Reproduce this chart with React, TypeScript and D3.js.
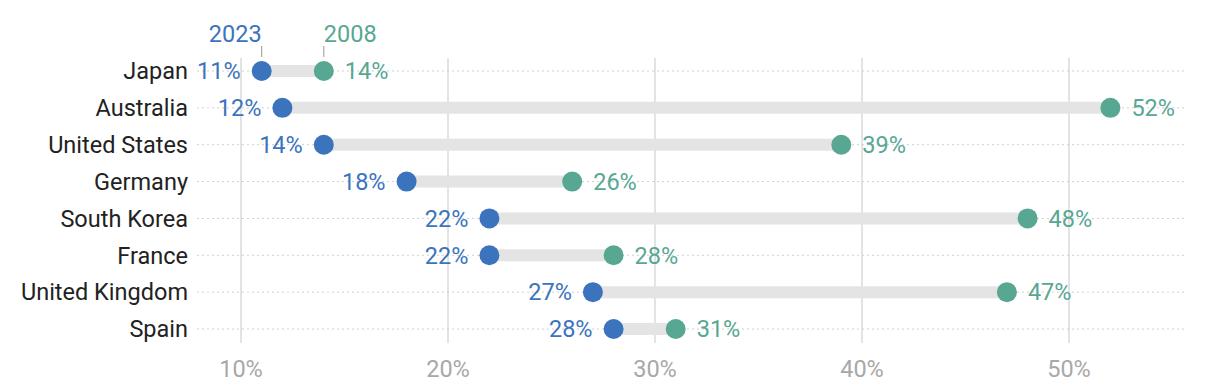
import React, { useRef, useEffect } from 'react';
import * as d3 from 'd3';

const countries = ['Japan', 'Australia', 'United States', 'Germany', 'South Korea', 'France', 'United Kingdom', 'Spain'];
const values2023 = [11, 12, 14, 18, 22, 22, 27, 28];
const values2008 = [14, 52, 39, 26, 48, 28, 47, 31];
const xTicks = [10, 20, 30, 40, 50];

const BLUE = '#3b74bd';
const GREEN = '#58a793';
const FONT = 'Roboto, sans-serif';
const FS = 23.5;

const App = () => {
    const svgRef = useRef<SVGSVGElement | null>(null);

    useEffect(() => {
        const svgWidth = 1220;
        const svgHeight = 392;
        const left = 197;
        const right = 1187;

        const svg = d3.select(svgRef.current)
            .attr('width', svgWidth)
            .attr('height', svgHeight);
        svg.selectAll('*').remove();

        const x = d3.scaleLinear().domain([10, 50]).range([241, 1069]);
        const y = d3.scalePoint<string>().domain(countries).range([71, 329]);

        // vertical grid
        svg.append('g')
            .selectAll('line')
            .data(xTicks)
            .enter()
            .append('line')
            .attr('x1', d => x(d)).attr('x2', d => x(d))
            .attr('y1', 58).attr('y2', 343)
            .attr('stroke', '#e3e3e3')
            .attr('stroke-width', 2);

        // dotted row lines
        svg.append('g')
            .selectAll('line')
            .data(countries)
            .enter()
            .append('line')
            .attr('x1', left).attr('x2', right)
            .attr('y1', d => y(d)!).attr('y2', d => y(d)!)
            .attr('stroke', '#d0d0d0')
            .attr('stroke-width', 1)
            .attr('stroke-dasharray', '2,3');

        // x tick labels
        svg.append('g')
            .selectAll('text')
            .data(xTicks)
            .enter()
            .append('text')
            .attr('x', d => x(d))
            .attr('y', 377)
            .attr('text-anchor', 'middle')
            .attr('font-family', FONT)
            .attr('font-size', FS)
            .attr('fill', '#a8a8a8')
            .text(d => d + '%');

        const rows = countries.map((c, i) => ({ c, a: values2023[i], b: values2008[i] }));

        // country labels
        svg.append('g')
            .selectAll('text')
            .data(rows)
            .enter()
            .append('text')
            .attr('x', 188)
            .attr('y', d => y(d.c)!)
            .attr('dy', '0.35em')
            .attr('text-anchor', 'end')
            .attr('font-family', FONT)
            .attr('font-size', FS)
            .attr('fill', '#222')
            .text(d => d.c);

        // gray bars
        svg.append('g')
            .selectAll('line')
            .data(rows)
            .enter()
            .append('line')
            .attr('x1', d => x(d.a)).attr('x2', d => x(d.b))
            .attr('y1', d => y(d.c)!).attr('y2', d => y(d.c)!)
            .attr('stroke', '#e4e4e4')
            .attr('stroke-width', 12);

        const drawSeries = (key: 'a' | 'b', color: string, side: number) => {
            const g = svg.append('g');
            g.selectAll('circle')
                .data(rows)
                .enter()
                .append('circle')
                .attr('cx', d => x(d[key]))
                .attr('cy', d => y(d.c)!)
                .attr('r', 10)
                .attr('fill', color);
            g.selectAll('text')
                .data(rows)
                .enter()
                .append('text')
                .attr('x', d => x(d[key]) + side * 21)
                .attr('y', d => y(d.c)!)
                .attr('dy', '0.35em')
                .attr('text-anchor', side < 0 ? 'end' : 'start')
                .attr('font-family', FONT)
                .attr('font-size', FS)
                .attr('fill', color)
                .text(d => d[key] + '%');
        };
        drawSeries('a', BLUE, -1);
        drawSeries('b', GREEN, 1);

        // legend labels above first row
        const legend = [
            { label: '2023', v: values2023[0], color: BLUE, anchor: 'end', dx: 0 },
            { label: '2008', v: values2008[0], color: GREEN, anchor: 'start', dx: 0 },
        ];
        const lg = svg.append('g');
        lg.selectAll('line')
            .data(legend)
            .enter()
            .append('line')
            .attr('x1', d => x(d.v)).attr('x2', d => x(d.v))
            .attr('y1', 46).attr('y2', 57)
            .attr('stroke', '#999')
            .attr('stroke-width', 1);
        lg.selectAll('text')
            .data(legend)
            .enter()
            .append('text')
            .attr('x', d => x(d.v) + d.dx)
            .attr('y', 42)
            .attr('text-anchor', d => d.anchor)
            .attr('font-family', FONT)
            .attr('font-size', FS)
            .attr('fill', d => d.color)
            .text(d => d.label);
    }, []);

    return (
        <div style={{ position: 'absolute', left: 0, top: 0 }}>
            <svg ref={svgRef} style={{ display: 'block' }} />
        </div>
    );
};

export default App;
